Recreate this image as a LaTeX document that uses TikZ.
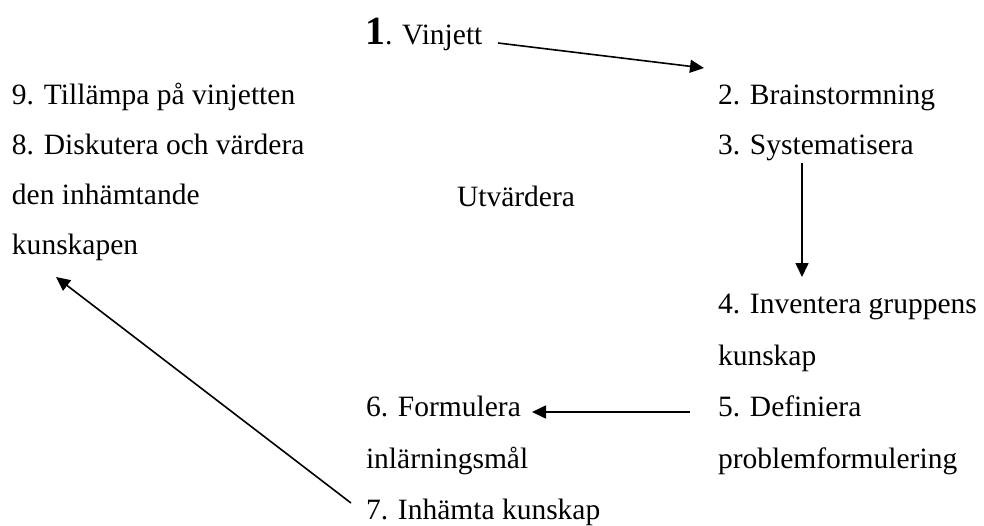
\documentclass[tikz,border=0pt]{standalone}
\usepackage{fontspec}
\setmainfont{Liberation Serif}
\usetikzlibrary{arrows.meta}
\begin{document}
\begin{tikzpicture}[x=1pt,y=-1pt,
  lbl/.style={anchor=base west, inner sep=0pt, outer sep=0pt, font=\fontsize{29.5}{29.5}\selectfont},
  conn/.style={line width=1.6pt, -{Triangle[length=14pt,width=13pt]}}]
\useasboundingbox (0,0) rectangle (984,525);
% texts
\node[lbl] (n1) at (365,44) {{\fontsize{40}{40}\selectfont\bfseries 1}. Vinjett};
\node[lbl] (n2) at (718,104) {2. Brainstormning};
\node[lbl] (n3) at (718,154) {3. Systematisera};
\node[lbl] (n4a) at (718,313) {4. Inventera gruppens};
\node[lbl] (n4b) at (718,365) {kunskap};
\node[lbl] (n5a) at (718,416) {5. Definiera};
\node[lbl] (n5b) at (718,468) {problemformulering};
\node[lbl] (n6a) at (366,416) {6. Formulera};
\node[lbl] (n6b) at (366,468) {inlärningsmål};
\node[lbl] (n7) at (366,519) {7. Inhämta kunskap};
\node[lbl] (n9) at (12,104) {9. Tillämpa på vinjetten};
\node[lbl] (n8a) at (12,154) {8. Diskutera och värdera};
\node[lbl] (n8b) at (12,204) {den inhämtande};
\node[lbl] (n8c) at (12,254) {kunskapen};
\node[lbl] (nu) at (457,206) {Utvärdera};
% connector ends
\coordinate (a1s) at (498,43); \coordinate (a1e) at (704,68);
\coordinate (a2s) at (802,163); \coordinate (a2e) at (802,277);
\coordinate (a3s) at (690,412); \coordinate (a3e) at (532,412);
\coordinate (a4s) at (351,503); \coordinate (a4e) at (56,277);
\draw[conn] (a1s) -- (a1e);
\draw[conn] (a2s) -- (a2e);
\draw[conn] (a3s) -- (a3e);
\draw[conn] (a4s) -- (a4e);
\end{tikzpicture}
\end{document}
